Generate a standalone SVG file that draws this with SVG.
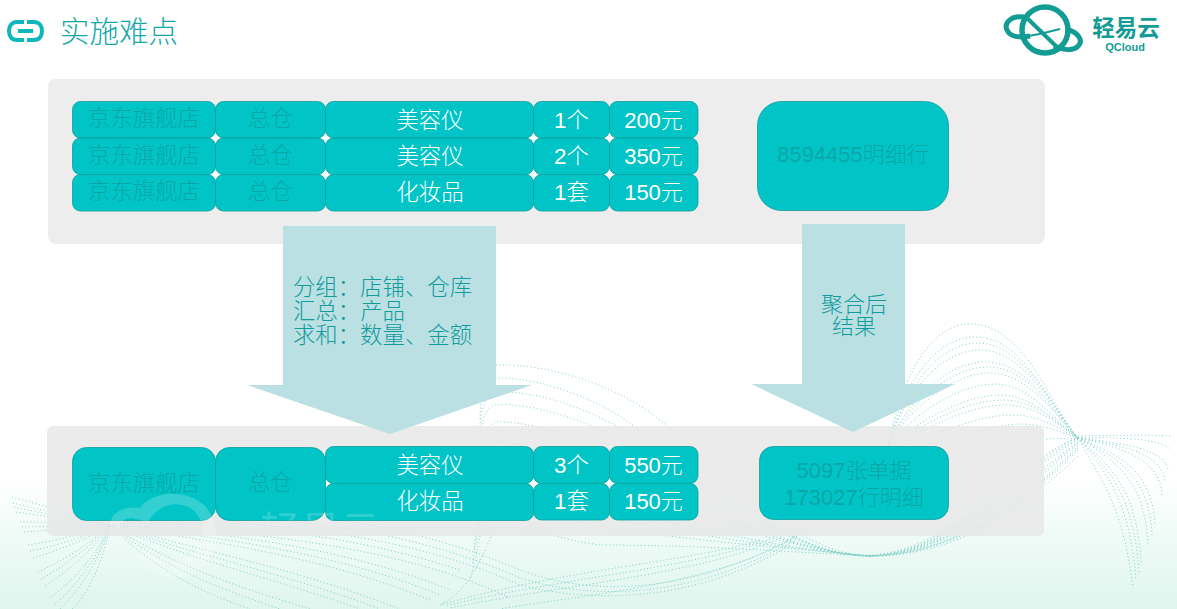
<svg xmlns="http://www.w3.org/2000/svg" width="1177" height="609" viewBox="0 0 1177 609">
<style>
.c{fill:#00c4c6;stroke:#0b9e9c;stroke-width:.8}
.t{font-family:"Liberation Sans","Noto Sans CJK SC",sans-serif;font-size:22.4px;font-weight:300;text-anchor:middle}
.n{font-size:22px}
.w{fill:#fff}
.d{fill:#0d9f9e;fill-opacity:.8}
.a{fill:#bbe0e3}
.l{fill:#129c9c}
.dots{fill:none;stroke:#6fcac4;stroke-width:1;stroke-dasharray:1 2.5;opacity:.85}
</style>
<defs>
<linearGradient id="bg2" x1="0" y1="480" x2="0" y2="609" gradientUnits="userSpaceOnUse"><stop offset="0" stop-color="#fff"/><stop offset=".4" stop-color="#f0fbf7"/><stop offset="1" stop-color="#dff5ed"/></linearGradient>
<clipPath id="inCell"><rect x="250" y="500" width="140" height="20.500"/></clipPath>
</defs>
<rect width="1177" height="609" fill="#fff"/>
<rect y="480" width="1177" height="129" fill="url(#bg2)"/>
<g id="waves" class="dots">
<g id="w1">
<path d="M888 445C905 365 935 324 970 324C1025 324 1050 405 1078 438"/>
<path d="M888 446C905 375 940 337 975 337C1025 337 1052 410 1078 438"/>
<path d="M888 446C908 385 945 350 980 350C1025 350 1055 412 1078 438"/>
<path d="M887 447C910 395 950 362 985 362C1030 362 1055 415 1078 438"/>
<path d="M887 447C912 405 955 373 990 373C1030 373 1058 420 1078 438"/>
<path d="M887 448C915 412 960 384 995 384C1030 384 1060 425 1078 438"/>
<path d="M886 448C920 420 965 395 1000 395C1035 395 1062 428 1078 438"/>
<path d="M886 450C925 428 970 405 1005 405C1040 405 1064 430 1078 438"/>
<path d="M886 452C930 437 975 415 1012 415C1045 415 1066 434 1078 438"/>
<path d="M886 455C935 445 985 425 1020 424C1048 424 1068 436 1078 438"/>
<path d="M1043 440C1055 437 1068 440 1078 438"/>
<path d="M1078 438C1100 480 1122 500 1133 588"/>
<path d="M1078 438C1105 470 1130 500 1136 580"/>
<path d="M1078 438C1110 465 1138 490 1141 565"/>
<path d="M1078 438C1115 460 1145 480 1148 545"/>
<path d="M1078 438C1120 455 1152 470 1155 525"/>
<path d="M1078 438C1125 448 1160 460 1162 495"/>
<path d="M1078 438C1130 444 1165 450 1168 470"/>
<path d="M1078 438C1130 437 1165 440 1170 450"/>
<path d="M1078 436C1130 435 1165 435 1172 436"/>
<path d="M1078 438C1030 450 960 550 870 555C800 558 720 470 660 420C610 380 540 364 500 365C470 366 486 390 480 400"/>
<path d="M1078 438C1030 455 960 552 870 556C800 558 720 490 650 440C610 400 540 378 500 378C482 380 480 400 480 420"/>
<path d="M1078 440C1030 465 960 553 870 556C800 556 720 500 640 450C590 420 530 402 495 405C482 410 480 430 480 450"/>
<path d="M1078 442C1030 475 960 553 870 556C800 554 710 510 640 470C590 440 530 420 495 422C482 430 480 450 480 480"/>
<path d="M1078 444C1030 485 960 553 870 556C800 552 710 520 620 490C570 470 530 440 495 442C482 460 480 480 478 510"/>
<path d="M1078 446C1030 495 960 554 870 556C790 550 700 530 600 505C560 490 510 460 490 462C480 490 478 520 474 550"/>
<path d="M1078 450C1020 510 950 555 870 556C790 548 680 540 590 525C550 515 510 490 490 492C480 530 476 560 470 580"/>
<path d="M1078 456C1010 520 950 556 870 556C790 552 700 545 600 545C560 540 510 520 494 530C480 560 470 590 440 605"/>
<path d="M760 540C700 560 560 570 440 605"/>
<path d="M780 538C700 575 560 585 450 608"/>
<path d="M800 534C720 585 580 595 500 609"/>
<path d="M12 497C40 505 80 515 110 525C200 520 340 530 460 570"/>
<path d="M13 503C40 510 80 518 110 525C200 530 340 545 450 590"/>
<path d="M16 512C45 516 80 522 110 525C200 540 320 555 430 600"/>
<path d="M20 522C50 522 85 524 110 525C200 550 300 570 400 609"/>
<path d="M24 532C55 530 90 528 110 525C190 560 280 580 360 609"/>
<path d="M28 545C60 540 92 532 110 525C180 570 250 590 310 609"/>
<path d="M33 558C60 550 95 536 110 525C160 575 210 595 250 609"/>
<path d="M38 572C65 560 95 540 110 525"/>
<path d="M45 586C70 570 98 545 110 525"/>
<path d="M50 598C75 580 100 550 110 525"/>
<path d="M60 609C80 590 102 555 110 525"/>
<path d="M72 609C88 595 104 560 110 525"/>
<path d="M110 525C220 500 380 510 520 570C600 600 700 590 800 534"/>
<path d="M110 525C230 515 400 530 520 585C600 605 700 600 790 545"/>
</g>
<path d="M888 446C908 380 942 343 978 343C1025 343 1053 411 1078 438"/>
<path d="M887 447C911 400 952 367 988 367C1030 367 1056 418 1078 438"/>
<path d="M886 449C922 424 967 400 1003 400C1038 400 1063 429 1078 438"/>
<path d="M1078 438C1108 468 1134 495 1139 572"/>
<path d="M1078 438C1118 458 1149 475 1152 535"/>
<path d="M1078 438C1128 446 1163 455 1165 482"/>
<path d="M1078 439C1030 460 960 552 870 556C800 557 720 495 645 445C600 410 535 390 497 392C482 396 480 415 480 435"/>
<path d="M1078 443C1030 480 960 553 870 556C800 553 710 515 630 480C580 455 530 430 495 432C482 445 480 465 479 495"/>
<path d="M1078 448C1025 502 955 555 870 556C790 549 690 535 595 515C555 502 510 475 490 477C480 510 477 540 472 565"/>
<path d="M14 507C42 513 80 520 110 525C200 535 330 550 440 595"/>
<path d="M22 527C52 526 88 526 110 525C195 555 290 575 380 609"/>
<path d="M30 551C60 545 93 534 110 525C170 572 230 592 280 609"/>
<path d="M41 579C67 565 96 542 110 525"/>
<path d="M55 604C78 585 101 552 110 525"/>
<path d="M770 539C700 567 560 578 445 606"/>
<path d="M110 525C225 508 390 520 520 578C600 603 700 595 795 540"/>
<path d="M110 525C240 530 400 545 510 598"/>
</g>
<g id="panel-top"><rect x="48" y="79" width="997" height="165" rx="8" fill="#ededed"/></g>
<g id="panel-bottom"><rect x="47" y="426" width="997" height="110" rx="6" fill="#e8e8e8" fill-opacity=".86"/></g>
<g id="table-top">
<rect x="80" y="109" width="610" height="94" class="w"/>
<g id="r1"><rect x="72.500" y="101.500" width="143" height="36.500" rx="8" class="c"/><rect x="215.500" y="101.500" width="110" height="36.500" rx="8" class="c"/><rect x="325.500" y="101.500" width="208" height="36.500" rx="8" class="c"/><rect x="533.500" y="101.500" width="76" height="36.500" rx="8" class="c"/><rect x="609.500" y="101.500" width="88.500" height="36.500" rx="8" class="c"/>
<text x="144" y="126" class="t d">京东旗舰店</text><text x="270.500" y="126" class="t d">总仓</text><text x="430" y="128" class="t w">美容仪</text><text x="571.500" y="128" class="t w">1个</text><text x="653.500" y="128" class="t w n">200元</text></g>
<g id="r2"><rect x="72.500" y="138" width="143" height="36.500" rx="8" class="c"/><rect x="215.500" y="138" width="110" height="36.500" rx="8" class="c"/><rect x="325.500" y="138" width="208" height="36.500" rx="8" class="c"/><rect x="533.500" y="138" width="76" height="36.500" rx="8" class="c"/><rect x="609.500" y="138" width="88.500" height="36.500" rx="8" class="c"/>
<text x="144" y="163" class="t d">京东旗舰店</text><text x="270.500" y="163" class="t d">总仓</text><text x="430" y="164" class="t w">美容仪</text><text x="571.500" y="164" class="t w">2个</text><text x="653.500" y="164" class="t w n">350元</text></g>
<g id="r3"><rect x="72.500" y="174.500" width="143" height="36.500" rx="8" class="c"/><rect x="215.500" y="174.500" width="110" height="36.500" rx="8" class="c"/><rect x="325.500" y="174.500" width="208" height="36.500" rx="8" class="c"/><rect x="533.500" y="174.500" width="76" height="36.500" rx="8" class="c"/><rect x="609.500" y="174.500" width="88.500" height="36.500" rx="8" class="c"/>
<text x="144" y="199" class="t d">京东旗舰店</text><text x="270.500" y="199" class="t d">总仓</text><text x="430" y="200" class="t w">化妆品</text><text x="571.500" y="200" class="t w">1套</text><text x="653.500" y="200" class="t w n">150元</text></g>
</g>
<g id="result-top"><rect x="757.500" y="101.500" width="191" height="109" rx="24" class="c"/><text x="853" y="162" class="t d n">8594455明细行</text></g>
<g id="connectors">
<polygon class="a" points="283,226 496,226 496,385 532,385 390,434 247,385 283,385"/>
<polygon class="a" points="802,224 905,224 905,384 955,384 853,432 751,384 802,384"/>
<text x="382.500" y="295" class="t l">分组：店铺、仓库</text>
<text x="293" y="319" class="t l" style="text-anchor:start">汇总：产品</text>
<text x="382.500" y="343" class="t l">求和：数量、金额</text>
<text x="854" y="312" class="t l n">聚合后</text>
<text x="854" y="334" class="t l n">结果</text>
</g>
<g id="table-bottom">
<rect x="320" y="455" width="370" height="56" class="w"/>
<rect x="72.500" y="447.500" width="143" height="73" rx="14" class="c"/><rect x="215.500" y="447.500" width="110" height="73" rx="14" class="c"/>
<rect x="325.500" y="446.500" width="208" height="37" rx="8" class="c"/><rect x="533.500" y="446.500" width="76" height="37" rx="8" class="c"/><rect x="609.500" y="446.500" width="88.500" height="37" rx="8" class="c"/>
<rect x="325.500" y="483.500" width="208" height="37" rx="8" class="c"/><rect x="533.500" y="483.500" width="76" height="36.500" rx="8" class="c"/><rect x="609.500" y="483.500" width="88.500" height="36.500" rx="8" class="c"/>
<text x="144" y="491" class="t d">京东旗舰店</text><text x="270.500" y="490" class="t d">总仓</text>
<text x="430" y="473" class="t w">美容仪</text><text x="571.500" y="473" class="t w">3个</text><text x="653.500" y="473" class="t w n">550元</text>
<text x="430" y="509" class="t w">化妆品</text><text x="571.500" y="509" class="t w">1套</text><text x="653.500" y="509" class="t w n">150元</text>
</g>
<g id="result-bottom"><rect x="759.500" y="446.500" width="189" height="73" rx="14" class="c"/><text x="854" y="478" class="t d n">5097张单据</text><text x="854" y="505" class="t d n">173027行明细</text></g>
<g id="watermark" fill="#fff" fill-opacity=".2">
<path d="M110 524C112 510 128 506 140 508C150 492 185 487 205 506C222 525 222 560 190 575C170 582 150 574 135 555L150 548C160 562 180 565 195 552C208 538 205 518 190 508C175 500 158 505 148 522L132 518C122 518 118 525 120 532Z"/>
<text x="320" y="545" clip-path="url(#inCell)" style="font-family:'Noto Sans CJK SC',sans-serif;font-size:40px;text-anchor:middle">轻易云</text>
</g>
<g id="header">
<path d="M24 22H17C11 22 9 27 9 31C9 35 11 40 17 40H24M27 22H34C40 22 42 27 42 31C42 35 40 40 34 40H27" fill="none" stroke="#0cb8bd" stroke-width="4"/>
<path d="M18 31H33" stroke="#0cb8bd" stroke-width="4"/>
<text x="60" y="42" style="font-family:'Liberation Serif','Noto Sans CJK SC',serif;font-size:29.500px;font-weight:300" fill="#14a7a9">实施难点</text>
</g>
<g id="logo">
<circle cx="1045" cy="30" r="23" fill="none" stroke="#129c94" stroke-width="5.500"/>
<path d="M1024 17C1010 15 1004 24 1007 30C1010 37 1020 38 1030 36" fill="none" stroke="#129c94" stroke-width="5"/>
<path d="M1028 36C1038 35 1048 32 1060 29" fill="none" stroke="#129c94" stroke-width="2"/>
<path d="M1066 29C1078 32 1083 40 1079 45C1074 52 1062 50 1054 46" fill="none" stroke="#129c94" stroke-width="5"/>
<path d="M1026 17L1060 50" stroke="#129c94" stroke-width="4"/>
<text x="1126" y="36" style="font-family:'Noto Sans CJK SC',sans-serif;font-size:22.500px;font-weight:700;text-anchor:middle" fill="#129c94">轻易云</text>
<text x="1125" y="50.500" style="font-family:'Liberation Sans',sans-serif;font-size:11px;font-weight:700;text-anchor:middle" fill="#129c94">QCloud</text>
</g>
</svg>
